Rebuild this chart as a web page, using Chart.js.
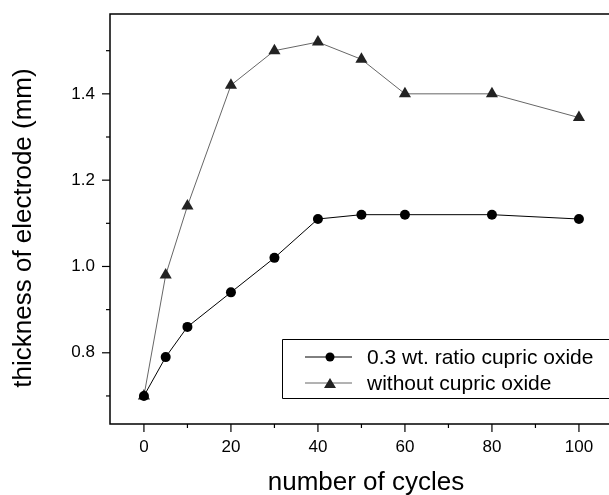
<!DOCTYPE html>
<html>
<head>
<meta charset="utf-8">
<script src="https://cdn.jsdelivr.net/npm/chart.js@4"></script>
<style>
  html, body { margin: 0; padding: 0; background: #fff; }
  #wrap { width: 609px; height: 495px; }
</style>
</head>
<body>
<div id="wrap"><canvas id="chart" width="609" height="495"></canvas></div>
<script>
// ============================================
// DATI
// ============================================
const cycles       = [0, 5, 10, 20, 30, 40, 50, 60, 80, 100];        // asse X
const withOxide    = [0.70, 0.79, 0.86, 0.94, 1.02, 1.11, 1.12, 1.12, 1.12, 1.11];
const withoutOxide = [0.70, 0.98, 1.14, 1.42, 1.50, 1.52, 1.48, 1.40, 1.40, 1.345];
const xTicks = [0, 10, 20, 30, 40, 50, 60, 70, 80, 90, 100];
const yTicks = [0.7, 0.8, 0.9, 1.0, 1.1, 1.2, 1.3, 1.4, 1.5];
const seriesLabels = ['0.3 wt. ratio cupric oxide', 'without cupric oxide'];
const xTitle = 'number of cycles';
const yTitle = 'thickness of electrode (mm)';

const FONT = '"Liberation Sans", Arial, sans-serif';

// etichetta solo sui tick principali
const xMajor = v => v % 20 === 0;
const yMajor = v => Math.round(v * 10) % 2 === 0;

// ============================================
// PLUGIN: cornice, tacche, titoli assi, legenda
// ============================================
const framePlugin = {
    id: 'frame',
    afterDatasetsDraw(chart) {
        const { ctx, chartArea: a, scales } = chart;
        ctx.save();
        ctx.strokeStyle = '#000';
        ctx.lineWidth = 1.5;

        // cornice aperta a destra (il grafico originale è tagliato)
        ctx.beginPath();
        ctx.moveTo(chart.width, a.top);
        ctx.lineTo(a.left, a.top);
        ctx.lineTo(a.left, a.bottom);
        ctx.lineTo(chart.width, a.bottom);
        ctx.stroke();

        // tacche: lunghe sui valori etichettati, corte sugli altri
        ctx.lineWidth = 1.2;
        scales.x.ticks.forEach(t => {
            const px = scales.x.getPixelForValue(t.value);
            const len = xMajor(t.value) ? 8 : 4;
            ctx.beginPath();
            ctx.moveTo(px, a.bottom);
            ctx.lineTo(px, a.bottom + len);
            ctx.stroke();
        });
        scales.y.ticks.forEach(t => {
            const py = scales.y.getPixelForValue(t.value);
            const len = yMajor(t.value) ? 8 : 4;
            ctx.beginPath();
            ctx.moveTo(a.left, py);
            ctx.lineTo(a.left - len, py);
            ctx.stroke();
        });

        // titoli assi
        ctx.fillStyle = '#000';
        ctx.font = '26px ' + FONT;
        ctx.textAlign = 'center';
        ctx.textBaseline = 'middle';
        ctx.fillText(xTitle, 366, 483);
        ctx.save();
        ctx.translate(24, 228);
        ctx.rotate(-Math.PI / 2);
        ctx.fillText(yTitle, 0, 0);
        ctx.restore();

        // legenda
        const bx = 282, by = 339, bh = 59;
        ctx.fillStyle = '#fff';
        ctx.fillRect(bx, by, chart.width - bx, bh);
        ctx.strokeStyle = '#000';
        ctx.lineWidth = 1;
        ctx.beginPath();
        ctx.moveTo(chart.width, by + 0.5);
        ctx.lineTo(bx + 0.5, by + 0.5);
        ctx.lineTo(bx + 0.5, by + bh + 0.5);
        ctx.lineTo(chart.width, by + bh + 0.5);
        ctx.stroke();
        chart.data.datasets.forEach((ds, i) => {
            const y = by + 18 + i * 26;
            const mx = bx + 48;
            ctx.strokeStyle = ds.borderColor;
            ctx.lineWidth = 1;
            ctx.beginPath();
            ctx.moveTo(bx + 23, y);
            ctx.lineTo(bx + 70, y);
            ctx.stroke();
            ctx.fillStyle = ds.pointBackgroundColor;
            ctx.beginPath();
            if (ds.pointStyle === 'triangle') {
                ctx.moveTo(mx, y - 5);
                ctx.lineTo(mx + 6, y + 5);
                ctx.lineTo(mx - 6, y + 5);
                ctx.closePath();
            } else {
                ctx.arc(mx, y, 4.5, 0, Math.PI * 2);
            }
            ctx.fill();
            ctx.fillStyle = '#000';
            ctx.font = '21px ' + FONT;
            ctx.textAlign = 'left';
            ctx.fillText(ds.label, bx + 85, y + 1);
        });
        ctx.restore();
    }
};

// ============================================
// GRAFICO
// ============================================
new Chart(document.getElementById('chart'), {
    type: 'line',
    data: {
        labels: cycles,
        datasets: [
            {
                label: seriesLabels[0],
                data: cycles.map((x, i) => ({ x: x, y: withOxide[i] })),
                borderColor: '#000',
                borderWidth: 1,
                pointStyle: 'circle',
                pointRadius: 5,
                pointBackgroundColor: '#000',
                pointBorderColor: '#000',
                pointBorderWidth: 0
            },
            {
                label: seriesLabels[1],
                data: cycles.map((x, i) => ({ x: x, y: withoutOxide[i] })),
                borderColor: '#666',
                borderWidth: 1,
                pointStyle: 'triangle',
                pointRadius: 7,
                pointBackgroundColor: '#222',
                pointBorderColor: '#222',
                pointBorderWidth: 0
            }
        ]
    },
    options: {
        responsive: false,
        animation: false,
        layout: { padding: { left: 0, top: 14, right: 0, bottom: 0 } },
        plugins: {
            legend: { display: false },
            tooltip: { enabled: false }
        },
        scales: {
            x: {
                type: 'linear',
                min: -7.8,
                max: 105.3,
                afterBuildTicks: s => { s.ticks = xTicks.map(v => ({ value: v })); },
                afterFit: s => { s.height = 71; s.paddingLeft = 0; s.paddingRight = 0; },
                ticks: {
                    autoSkip: false,
                    maxRotation: 0,
                    color: '#000',
                    padding: 5,
                    font: { family: FONT, size: 17 },
                    callback: v => (xMajor(v) ? String(v) : '')
                },
                grid: { drawOnChartArea: false, drawTicks: true, tickLength: 8, tickColor: 'rgba(0,0,0,0)' },
                border: { display: false },
                title: { display: false }
            },
            y: {
                min: 0.635,
                max: 1.585,
                afterBuildTicks: s => { s.ticks = yTicks.map(v => ({ value: v })); },
                afterFit: s => { s.width = 110; s.paddingTop = 0; s.paddingBottom = 0; },
                ticks: {
                    color: '#000',
                    padding: 7,
                    font: { family: FONT, size: 17 },
                    callback: v => (yMajor(v) ? v.toFixed(1) : '')
                },
                grid: { drawOnChartArea: false, drawTicks: true, tickLength: 8, tickColor: 'rgba(0,0,0,0)' },
                border: { display: false },
                title: { display: false }
            }
        }
    },
    plugins: [framePlugin]
});
</script>
</body>
</html>
